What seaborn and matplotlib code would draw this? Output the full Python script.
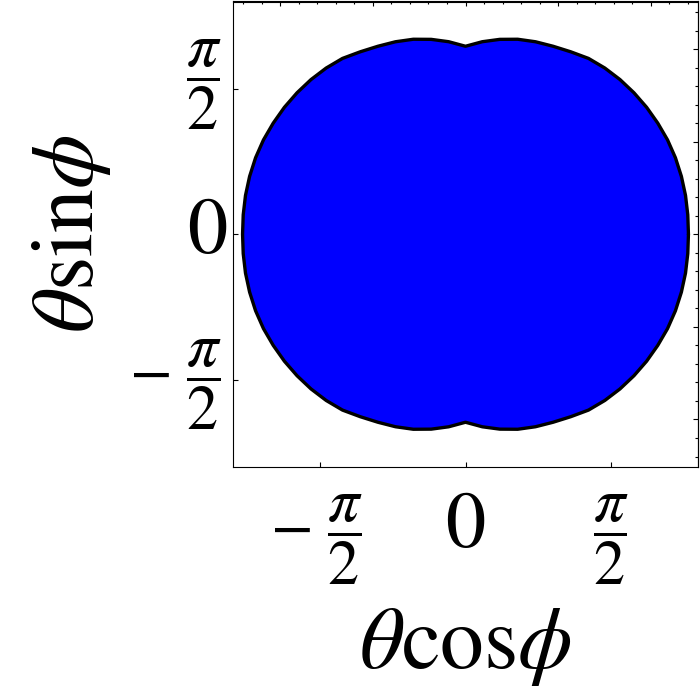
import numpy as np
import matplotlib
matplotlib.use("Agg")
import matplotlib.pyplot as plt
import matplotlib.transforms as mtransforms
import seaborn as sns

# ---- data (boundary in polar form: theta vs phi) ----
phi_deg = [0, 5, 10, 15, 20, 25, 30, 35, 40, 45, 50, 55, 60, 65, 70, 75, 80, 85, 90,
           95, 100, 105, 110, 115, 120, 125, 130, 135, 140, 145, 150, 155, 160, 165, 170, 175,
           180, 185, 190, 195, 200, 205, 210, 215, 220, 225, 230, 235, 240, 245, 250, 255, 260, 265, 270,
           275, 280, 285, 290, 295, 300, 305, 310, 315, 320, 325, 330, 335, 340, 345, 350, 355]
theta = [2.410, 2.412, 2.415, 2.416, 2.415, 2.410, 2.400, 2.390, 2.377, 2.362, 2.343, 2.318, 2.275, 2.240, 2.212, 2.180, 2.137, 2.087, 2.030,
         2.087, 2.137, 2.180, 2.212, 2.240, 2.275, 2.318, 2.343, 2.362, 2.377, 2.390, 2.400, 2.410, 2.415, 2.416, 2.415, 2.412,
         2.410, 2.412, 2.415, 2.416, 2.415, 2.410, 2.400, 2.390, 2.377, 2.362, 2.343, 2.318, 2.275, 2.240, 2.212, 2.180, 2.137, 2.087, 2.030,
         2.087, 2.137, 2.180, 2.212, 2.240, 2.275, 2.318, 2.343, 2.362, 2.377, 2.390, 2.400, 2.410, 2.415, 2.416, 2.415, 2.412]

tick_values = [-np.pi / 2, 0.0, np.pi / 2]
xtick_labels = [r"$-\ \dfrac{\pi}{2}$", r"$0$", r"$\dfrac{\pi}{2}$"]
ytick_labels = [r"$-\ \dfrac{\pi}{2}$", r"$0$", r"$\dfrac{\pi}{2}$"]
frame_major = [-2, -1, 0, 1, 2]
frame_minor = [v / 5 for v in range(-12, 13)]
plot_limit = 0.8 * np.pi
x_label = r"$\theta\mathrm{cos}\phi$"
y_label = r"$\theta\mathrm{sin}\phi$"

# ---- style ----
sns.set_style("ticks")
plt.rcParams["font.family"] = ["STIXGeneral", "DejaVu Sans"]
plt.rcParams["mathtext.fontset"] = "stix"
for key in ("text.color", "axes.labelcolor", "xtick.color", "ytick.color", "axes.edgecolor"):
    plt.rcParams[key] = "black"

phi = np.deg2rad(np.array(phi_deg + [phi_deg[0]]))
th = np.array(theta + [theta[0]])
xs = th * np.cos(phi)
ys = th * np.sin(phi)

fig = plt.figure(figsize=(7.0, 6.97), dpi=100)
ax = fig.add_axes([233 / 700, 1 - 467 / 697, (698 - 233) / 700, (467 - 1.5) / 697])

ax.fill(xs, ys, color="#0000ff", zorder=1, linewidth=0)
sns.lineplot(x=xs, y=ys, sort=False, estimator=None, color="black", linewidth=2.4, ax=ax, zorder=2)

ax.set_xlim(-plot_limit, plot_limit)
ax.set_ylim(-plot_limit, plot_limit)

for s in ax.spines.values():
    s.set_linewidth(0.8)
    s.set_color("black")

ax.set_xticks(tick_values)
ax.set_yticks(tick_values)
ax.set_xticklabels(xtick_labels)
ax.set_yticklabels(ytick_labels)
ax.tick_params(axis="both", direction="in", length=3.5, width=0.8, color="black",
               top=False, right=False, labelcolor="black")
ax.tick_params(axis="x", pad=18)
ax.tick_params(axis="y", pad=8)
for lab in ax.get_xticklabels() + ax.get_yticklabels():
    lab.set_fontsize(45)
ax.get_xticklabels()[1].set_fontsize(58)
ax.get_yticklabels()[1].set_fontsize(58)

# placement of tick labels as in the reference
def shift(label, dx_px, dy_px):
    off = mtransforms.ScaledTranslation(dx_px / 100, dy_px / 100, fig.dpi_scale_trans)
    label.set_transform(label.get_transform() + off)

ylabs = ax.get_yticklabels()
for lab in ylabs:
    lab.set_verticalalignment("center")
shift(ylabs[0], 0, -5)
shift(ylabs[1], 5, 0)
shift(ylabs[2], 0, 4)
xlabs = ax.get_xticklabels()
shift(xlabs[0], -4, 0)

secx = ax.secondary_xaxis("top")
secx.set_xticks(frame_major)
secx.set_xticks(frame_minor, minor=True)
secx.tick_params(which="major", direction="in", length=3.6, width=0.8, labeltop=False)
secx.tick_params(which="minor", direction="in", length=2.0, width=0.8)
secy = ax.secondary_yaxis("right")
secy.set_yticks(frame_major)
secy.set_yticks(frame_minor, minor=True)
secy.tick_params(which="major", direction="in", length=3.6, width=0.8, labelright=False)
secy.tick_params(which="minor", direction="in", length=2.0, width=0.8)
for sa in (secx, secy):
    for s in sa.spines.values():
        s.set_linewidth(0.8)

ax.set_xlabel(x_label, fontsize=63, labelpad=14)
ax.set_ylabel(y_label, fontsize=63, labelpad=11)

fig.savefig("out.png", dpi=100)
